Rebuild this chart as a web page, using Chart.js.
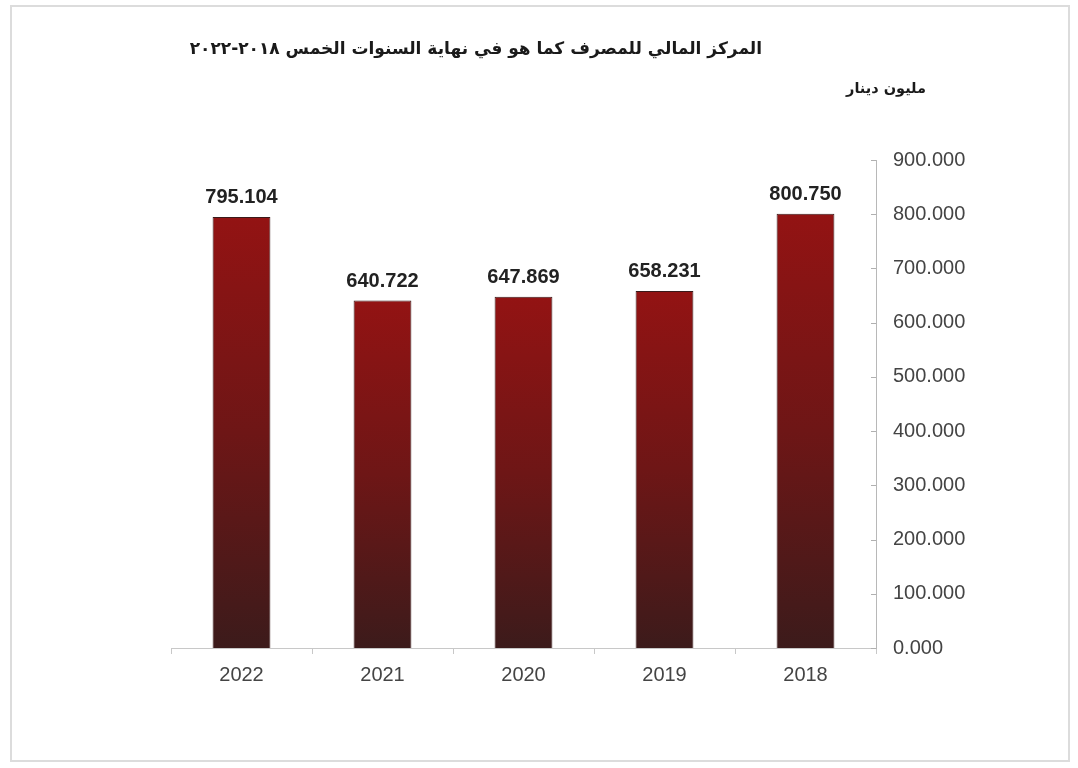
<!DOCTYPE html>
<html>
<head>
<meta charset="utf-8">
<script src="https://cdn.jsdelivr.net/npm/chart.js@4.4.1/dist/chart.umd.min.js"></script>
<style>
  html, body { margin: 0; padding: 0; background: #ffffff; }
  #wrap { position: relative; width: 1078px; height: 768px; }
  #frame { position: absolute; left: 10px; top: 5px; width: 1060px; height: 757px; border: 2px solid #dcdcdc; box-sizing: border-box; }
  canvas { position: absolute; left: 0; top: 0; }
</style>
</head>
<body>
<div id="wrap">
  <div id="frame"></div>
  <canvas id="c" width="1078" height="768"></canvas>
</div>
<script>
// Financial position of the bank, five years (million dinars)
const years = ['2022', '2021', '2020', '2019', '2018'];
const totals = [795.104, 640.722, 647.869, 658.231, 800.750];
const yTicks = [0, 100, 200, 300, 400, 500, 600, 700, 800, 900];
const chartTitle = 'المركز المالي للمصرف كما هو في نهاية السنوات الخمس ٢٠١٨-٢٠٢٢';
const unitLabel = 'مليون دينار';

const fmt = v => v.toFixed(3);

// Per-bar vertical gradient: bright red at the top fading to dark maroon at the base
function barFill(context) {
  const chart = context.chart;
  const area = chart.chartArea;
  if (!area || context.type !== 'data') return '#7a1414';
  const y = chart.scales.y;
  const top = y.getPixelForValue(context.raw);
  const base = y.getPixelForValue(0);
  const g = chart.ctx.createLinearGradient(0, top, 0, base);
  g.addColorStop(0, '#931313');
  g.addColorStop(0.5, '#6e1616');
  g.addColorStop(1, '#3c1b1b');
  return g;
}

// Titles, value labels and inward y tick marks
const decorations = {
  id: 'decorations',
  afterDatasetsDraw(chart) {
    const ctx = chart.ctx;
    ctx.save();
    // value labels above bars
    const meta = chart.getDatasetMeta(0);
    ctx.font = 'bold 20px "Liberation Sans", Arial, sans-serif';
    ctx.fillStyle = '#222222';
    ctx.textAlign = 'center';
    ctx.textBaseline = 'alphabetic';
    meta.data.forEach((bar, i) => {
      ctx.fillText(fmt(totals[i]), bar.x, bar.y - 14);
    });
    // small tick marks on the inner side of the right axis
    const ys = chart.scales.y;
    ctx.strokeStyle = '#b0b0b0';
    ctx.lineWidth = 1;
    yTicks.forEach(v => {
      const py = Math.round(ys.getPixelForValue(v)) + 0.5;
      ctx.beginPath();
      ctx.moveTo(ys.left - 5, py);
      ctx.lineTo(ys.left, py);
      ctx.stroke();
    });
    // headings
    ctx.direction = 'rtl';
    ctx.textAlign = 'right';
    ctx.textBaseline = 'middle';
    ctx.fillStyle = '#1a1a1a';
    ctx.font = 'bold 17px "DejaVu Sans", sans-serif';
    ctx.fillText(chartTitle, 762, 50);
    ctx.font = 'bold 14.5px "DejaVu Sans", sans-serif';
    ctx.fillText(unitLabel, 926, 89);
    ctx.restore();
  }
};

new Chart(document.getElementById('c'), {
  type: 'bar',
  data: {
    labels: years,
    datasets: [{
      data: totals,
      backgroundColor: barFill,
      borderColor: '#3a1a1a',
      borderWidth: 1,
      barPercentage: 0.41,
      categoryPercentage: 1
    }]
  },
  options: {
    responsive: false,
    animation: false,
    events: [],
    layout: { padding: { left: 171, top: 160, right: 0, bottom: 0 } },
    plugins: { legend: { display: false }, tooltip: { enabled: false } },
    scales: {
      x: {
        offset: true,
        grid: { display: true, drawOnChartArea: false, offset: true, tickLength: 6, color: '#c8c8c8' },
        border: { display: true, color: '#c8c8c8', width: 1 },
        ticks: { color: '#444444', padding: 9, font: { size: 20, family: '"Liberation Sans", Arial, sans-serif' } },
        afterFit(scale) { scale.height = 120; }
      },
      y: {
        position: 'right',
        min: 0,
        max: 900,
        afterBuildTicks(scale) { scale.ticks = yTicks.map(v => ({ value: v })); },
        grid: { display: false, drawTicks: false },
        border: { display: true, color: '#b8b8b8', width: 1 },
        ticks: {
          color: '#444444',
          padding: 17,
          font: { size: 20, family: '"Liberation Sans", Arial, sans-serif' },
          callback: v => fmt(v)
        },
        afterFit(scale) { scale.width = 202; }
      }
    }
  },
  plugins: [decorations]
});
</script>
</body>
</html>
